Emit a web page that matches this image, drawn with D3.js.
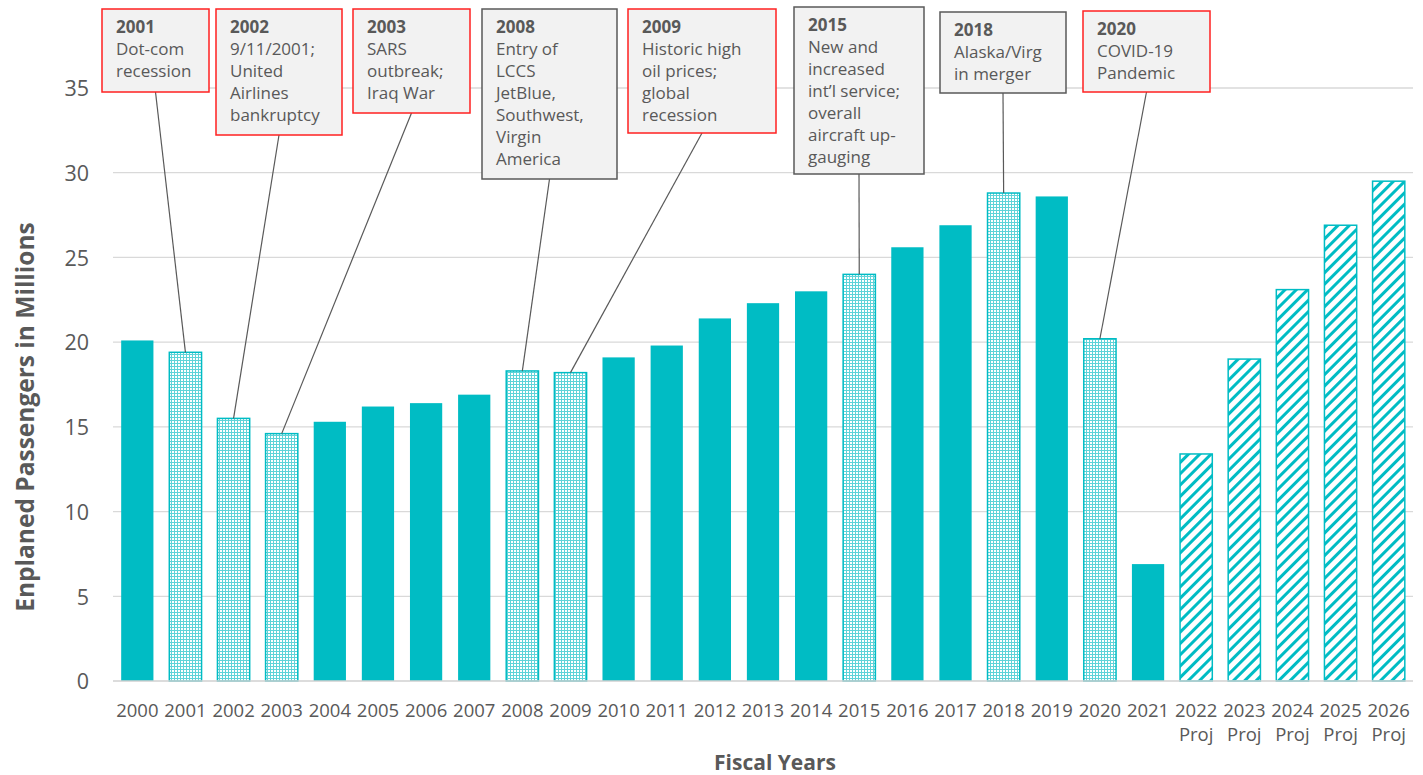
<!DOCTYPE html>
<html>
<head>
<meta charset="utf-8">
<script src="https://cdn.jsdelivr.net/npm/d3@7"></script>
<style>
  html, body { margin: 0; padding: 0; background: #fff; }
  svg { display: block; font-family: "Open Sans", "Noto Sans", sans-serif; }
</style>
</head>
<body>
<svg id="chart" width="1423" height="775"></svg>
<script>
// Fiscal years and enplaned passengers (millions)
const years = ["2000","2001","2002","2003","2004","2005","2006","2007","2008","2009",
  "2010","2011","2012","2013","2014","2015","2016","2017","2018","2019",
  "2020","2021","2022","2023","2024","2025","2026"];
const passengers = [20.1, 19.4, 15.5, 14.6, 15.3, 16.2, 16.4, 16.9, 18.3, 18.2,
  19.1, 19.8, 21.4, 22.3, 23.0, 24.0, 25.6, 26.9, 28.8, 28.6,
  20.2, 6.9, 13.4, 19.0, 23.1, 26.9, 29.5];
// "actual" = plain year, "event" = year with a noted event, "proj" = projection
const barKinds = ["actual","event","event","event","actual","actual","actual","actual","event","event",
  "actual","actual","actual","actual","actual","event","actual","actual","event","actual",
  "event","actual","proj","proj","proj","proj","proj"];
const yTicks = [0, 5, 10, 15, 20, 25, 30, 35];

// Event notes
const noteYears = ["2001","2002","2003","2008","2009","2015","2018","2020"];
const noteLines = [
  ["Dot-com", "recession"],
  ["9/11/2001;", "United", "Airlines", "bankruptcy"],
  ["SARS", "outbreak;", "Iraq War"],
  ["Entry of", "LCCS", "JetBlue,", "Southwest,", "Virgin", "America"],
  ["Historic high", "oil prices;", "global", "recession"],
  ["New and", "increased", "int\u2019l service;", "overall", "aircraft up-", "gauging"],
  ["Alaska/Virg", "in merger"],
  ["COVID-19", "Pandemic"]
];
// "neg" = downturn (red frame), "pos" = growth driver (grey frame)
const noteKinds = ["neg","neg","neg","pos","neg","pos","pos","neg"];

// Box placement for each note: left, top, width, height
const noteBoxes = [
  [102, 9, 107, 83],
  [216, 9, 126, 126],
  [353, 9, 117, 104],
  [482, 9, 135, 170],
  [628, 9, 148, 124],
  [794, 7, 130, 167],
  [940, 12, 126, 81],
  [1083, 11, 127, 81]
];

const teal = "#00BCC4";
const textGrey = "#595959";

const svg = d3.select("#chart");
const defs = svg.append("defs");

// Fine dotted fill for event years
const dots = defs.append("pattern")
  .attr("id", "dots").attr("patternUnits", "userSpaceOnUse")
  .attr("width", 3).attr("height", 3);
dots.append("rect").attr("width", 3).attr("height", 3).attr("fill", "#5fd3d8");
dots.append("rect").attr("x", 1).attr("y", 1).attr("width", 2).attr("height", 2).attr("fill", "#fff");

// Diagonal hatch for projected years
const hatch = defs.append("pattern")
  .attr("id", "hatch").attr("patternUnits", "userSpaceOnUse")
  .attr("width", 8).attr("height", 8)
  .attr("patternTransform", "rotate(45)");
hatch.append("rect").attr("width", 8).attr("height", 8).attr("fill", "#fff");
hatch.append("rect").attr("x", 0).attr("width", 3).attr("height", 8).attr("fill", teal);

const x = d3.scaleBand().domain(years).range([113, 1413]).paddingInner(0.33).paddingOuter(0.17);
const y = d3.scaleLinear().domain([0, 35]).range([681, 88]);

// Gridlines
svg.append("g").selectAll("line").data(yTicks.filter(t => t > 0)).join("line")
  .attr("x1", 113).attr("x2", 1413)
  .attr("y1", d => y(d)).attr("y2", d => y(d))
  .attr("stroke", "#d9d9d9").attr("stroke-width", 1.3);

// Bars
const fillFor = k => k === "actual" ? teal : (k === "event" ? "url(#dots)" : "url(#hatch)");
svg.append("g").selectAll("rect").data(years).join("rect")
  .attr("x", d => x(d))
  .attr("width", x.bandwidth())
  .attr("y", (d, i) => y(passengers[i]))
  .attr("height", (d, i) => y(0) - y(passengers[i]))
  .attr("fill", (d, i) => fillFor(barKinds[i]))
  .attr("stroke", (d, i) => barKinds[i] === "actual" ? "none" : teal)
  .attr("stroke-width", 1.5);

// Baseline
svg.append("line").attr("x1", 113).attr("x2", 1413)
  .attr("y1", y(0)).attr("y2", y(0))
  .attr("stroke", "#d0d0d0").attr("stroke-width", 1.3);

// Y axis labels
const yAxis = d3.axisLeft(y).tickValues(yTicks).tickSize(0).tickPadding(0);
svg.append("g").attr("transform", "translate(89,0)").call(yAxis)
  .call(g => g.select(".domain").remove())
  .call(g => g.selectAll("text").attr("fill", textGrey)
    .style("font-size", "21.5px").style("font-family", "'Open Sans', sans-serif")
    .attr("dy", "0.36em"));

// X axis labels
const xAxis = d3.axisBottom(x).tickSize(0).tickPadding(0);
const xg = svg.append("g").attr("transform", `translate(0,${y(0)})`).call(xAxis);
xg.select(".domain").remove();
xg.selectAll(".tick text").each(function(d, i) {
  const t = d3.select(this);
  t.text(null).attr("y", 0).attr("dy", null)
    .attr("fill", textGrey).style("font-size", "18.5px")
    .style("font-family", "'Open Sans', sans-serif");
  t.append("tspan").attr("x", 0).attr("y", 36).text(d);
  if (barKinds[i] === "proj") t.append("tspan").attr("x", 0).attr("y", 60).text("Proj");
});

// Axis titles
svg.append("text")
  .attr("transform", "translate(34,417) rotate(-90)")
  .attr("text-anchor", "middle")
  .attr("fill", textGrey).style("font-size", "24.5px").style("font-weight", "700")
  .text("Enplaned Passengers in Millions");
svg.append("text")
  .attr("x", 775).attr("y", 770)
  .attr("text-anchor", "middle")
  .attr("fill", textGrey).style("font-size", "21px").style("font-weight", "700")
  .text("Fiscal Years");

// Event notes with leader lines to their bars
const notes = svg.append("g");
noteYears.forEach((yr, k) => {
  const [bx, by, bw, bh] = noteBoxes[k];
  const i = years.indexOf(yr);
  notes.append("line")
    .attr("x1", bx + bw / 2).attr("y1", by + bh)
    .attr("x2", x(yr) + x.bandwidth() / 2).attr("y2", y(passengers[i]))
    .attr("stroke", "#595959").attr("stroke-width", 1.2);
  notes.append("rect")
    .attr("x", bx).attr("y", by).attr("width", bw).attr("height", bh)
    .attr("fill", "#f2f2f2")
    .attr("stroke", noteKinds[k] === "neg" ? "#ff2020" : "#595959")
    .attr("stroke-width", 1.5);
  const txt = notes.append("text").attr("fill", textGrey).style("font-size", "17px");
  txt.append("tspan").attr("x", bx + 14).attr("y", by + 24)
    .style("font-weight", "700").text(yr);
  noteLines[k].forEach((line, j) => {
    txt.append("tspan").attr("x", bx + 14).attr("y", by + 24 + 22 * (j + 1)).text(line);
  });
});
</script>
</body>
</html>
